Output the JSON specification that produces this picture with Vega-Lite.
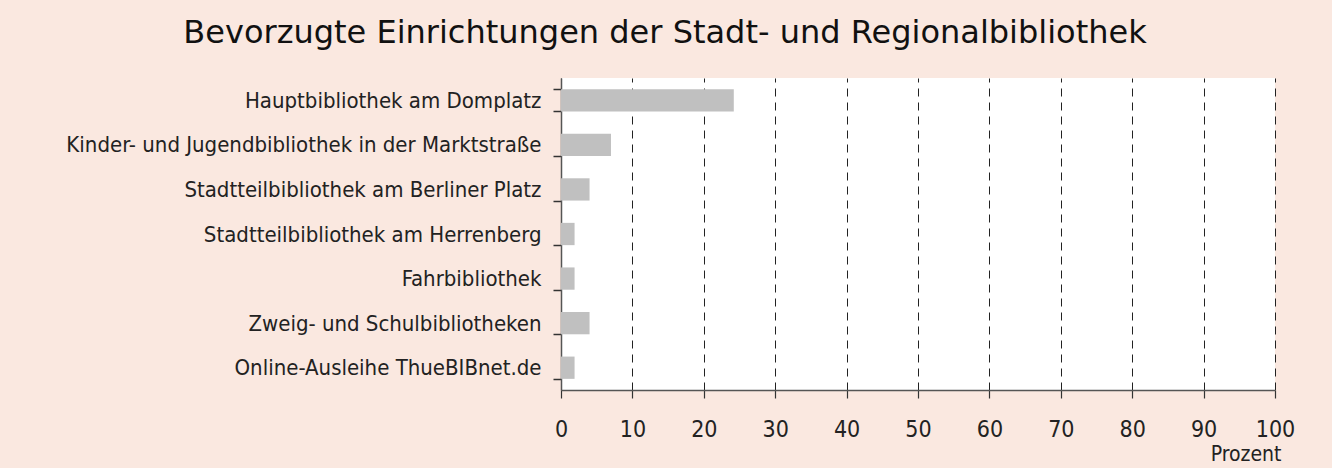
{
  "$schema": "https://vega.github.io/schema/vega-lite/v6.json",
  "width": 714,
  "height": 312,
  "autosize": {"type": "none"},
  "padding": {"left": 561, "top": 78, "right": 57, "bottom": 78},
  "background": "#FAE8E0",
  "title": {
    "text": "Bevorzugte Einrichtungen der Stadt- und Regionalbibliothek",
    "font": "DejaVu Sans",
    "fontSize": 32,
    "fontWeight": "normal",
    "color": "#111111",
    "anchor": "middle",
    "frame": "group",
    "dx": -253,
    "dy": 43,
    "baseline": "alphabetic",
    "offset": 35
  },
  "config": {
    "view": {"fill": "#FFFFFF", "stroke": null},
    "axis": {
      "labelFont": "DejaVu Sans Condensed, Roboto, sans-serif",
      "titleFont": "DejaVu Sans Condensed, Roboto, sans-serif",
      "labelColor": "#222222",
      "titleColor": "#222222",
      "domainColor": "#555555",
      "tickColor": "#333333"
    }
  },
  "data": {
    "values": [
      {"Einrichtung": "Hauptbibliothek am Domplatz", "Prozent": 24.2},
      {"Einrichtung": "Kinder- und Jugendbibliothek in der Marktstraße", "Prozent": 7.0},
      {"Einrichtung": "Stadtteilbibliothek am Berliner Platz", "Prozent": 4.0},
      {"Einrichtung": "Stadtteilbibliothek am Herrenberg", "Prozent": 1.9},
      {"Einrichtung": "Fahrbibliothek", "Prozent": 1.9},
      {"Einrichtung": "Zweig- und Schulbibliotheken", "Prozent": 4.0},
      {"Einrichtung": "Online-Ausleihe ThueBIBnet.de", "Prozent": 1.9}
    ]
  },
  "mark": {"type": "bar", "color": "#C0C0C0"},
  "encoding": {
    "y": {
      "field": "Einrichtung",
      "type": "nominal",
      "sort": null,
      "scale": {"paddingInner": 0.5, "paddingOuter": 0.25},
      "axis": {
        "title": null,
        "labelFontSize": 22,
        "labelPadding": 12,
        "labelLimit": 600,
        "tickBand": "extent",
        "tickSize": 8,
        "domainWidth": 1.5,
        "tickWidth": 1.5,
        "grid": false
      }
    },
    "x": {
      "field": "Prozent",
      "type": "quantitative",
      "scale": {"domain": [0, 100], "nice": false},
      "axis": {
        "title": "Prozent",
        "values": [0, 10, 20, 30, 40, 50, 60, 70, 80, 90, 100],
        "labelFontSize": 23,
        "labelPadding": 20,
        "labelFlush": false,
        "tickSize": 8,
        "domainWidth": 1.5,
        "tickWidth": 1.2,
        "grid": true,
        "gridColor": "#222222",
        "gridDash": [8, 6],
        "gridWidth": 1,
        "titleFontSize": 21,
        "titleFontWeight": "normal",
        "titleAnchor": "end",
        "titleAlign": "right",
        "titleX": 720,
        "titleY": 70,
        "titleBaseline": "alphabetic"
      }
    }
  }
}
